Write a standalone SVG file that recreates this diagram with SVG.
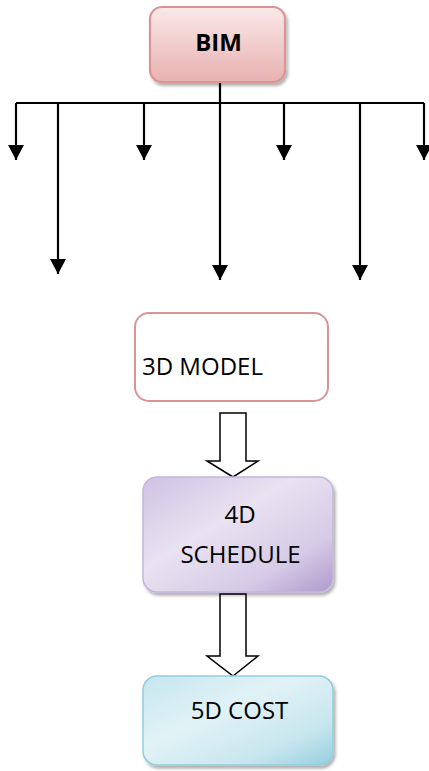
<svg xmlns="http://www.w3.org/2000/svg" width="429" height="771" viewBox="0 0 429 771">
  <defs>
    <style>
      .lbl { font-family: "Open Sans", "Liberation Sans", sans-serif; font-size: 24px; fill: #000; }
      .bold { font-weight: bold; }
      .wire { stroke: #000; stroke-width: 2.2; fill: none; marker-end: url(#tip); }
      .block { fill: #fff; stroke: #000; stroke-width: 1.5; stroke-linejoin: miter; }
    </style>
    <marker id="tip" markerUnits="userSpaceOnUse" markerWidth="17" markerHeight="18" refX="15" refY="9" orient="auto">
      <path d="M0,1 L15,9 L0,17 z" fill="#000"/>
    </marker>
    <filter id="shade" x="-10%" y="-10%" width="125%" height="130%">
      <feDropShadow dx="2" dy="3" stdDeviation="1.5" flood-color="#000" flood-opacity="0.3"/>
    </filter>
    <linearGradient id="pink" x1="0" y1="0" x2="0" y2="1">
      <stop offset="0" stop-color="#fbe9e9"/>
      <stop offset="1" stop-color="#e7b1b0"/>
    </linearGradient>
    <linearGradient id="lilac" x1="0" y1="0" x2="1" y2="1">
      <stop offset="0" stop-color="#cfc2e3"/>
      <stop offset="0.4" stop-color="#e9e2f1"/>
      <stop offset="0.75" stop-color="#d6cae6"/>
      <stop offset="1" stop-color="#ae9acc"/>
    </linearGradient>
    <linearGradient id="aqua" x1="0" y1="0" x2="1" y2="1">
      <stop offset="0" stop-color="#c6e6ef"/>
      <stop offset="0.4" stop-color="#e1f2f6"/>
      <stop offset="0.75" stop-color="#c8e6ee"/>
      <stop offset="1" stop-color="#96cfdf"/>
    </linearGradient>
  </defs>

  <rect width="429" height="771" fill="#fff"/>

  <!-- tree of arrows below BIM, plus the block arrows between stages -->
  <g id="connectors">
    <path d="M16,103 H424" stroke="#000" stroke-width="2.2" fill="none"/>
    <path class="wire" d="M220,83 V280"/>
    <path class="wire" d="M16,103 V160"/>
    <path class="wire" d="M144,103 V160"/>
    <path class="wire" d="M284,103 V160"/>
    <path class="wire" d="M424,103 V160"/>
    <path class="wire" d="M58,103 V274"/>
    <path class="wire" d="M360,103 V280"/>
    <polygon class="block" points="220,413 246,413 246,461 258,461 233,477 207,461 220,461"/>
    <polygon class="block" points="220,594 246,594 246,656 258,656 233,676 207,656 220,656"/>
  </g>

  <g id="bim">
    <rect x="150" y="7" width="135" height="75" rx="12" fill="url(#pink)" stroke="#d99594" stroke-width="2.2" filter="url(#shade)"/>
    <text class="lbl bold" x="218.5" y="51" text-anchor="middle">BIM</text>
  </g>

  <g id="model3d">
    <rect x="135" y="313" width="193" height="88" rx="14" fill="#fff" stroke="#d99594" stroke-width="2"/>
    <text class="lbl" x="142" y="375">3D MODEL</text>
  </g>

  <g id="schedule4d">
    <rect x="143" y="477" width="190" height="115" rx="14" fill="url(#lilac)" stroke="#c4b6da" stroke-width="1.5" filter="url(#shade)"/>
    <text class="lbl" x="240" y="523" text-anchor="middle">4D</text>
    <text class="lbl" x="240.5" y="563" text-anchor="middle">SCHEDULE</text>
  </g>

  <g id="cost5d">
    <rect x="143" y="676" width="190" height="89" rx="14" fill="url(#aqua)" stroke="#93cddd" stroke-width="1.5" filter="url(#shade)"/>
    <text class="lbl" x="239.5" y="719" text-anchor="middle">5D COST</text>
  </g>
</svg>
